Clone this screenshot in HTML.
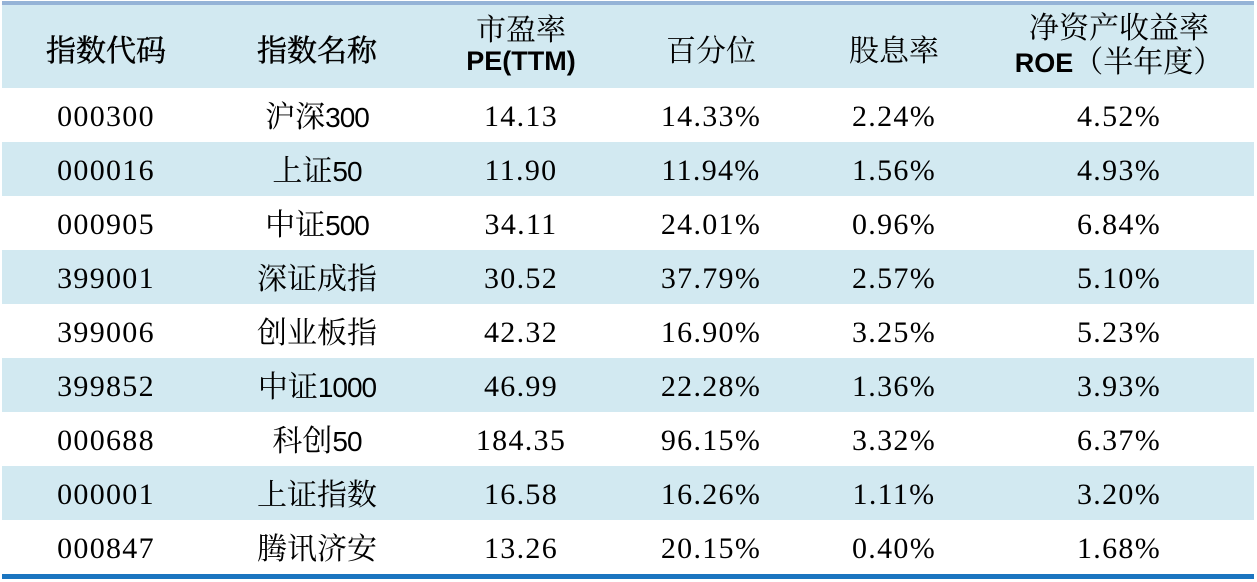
<!DOCTYPE html>
<html>
<head>
<meta charset="utf-8">
<style>
  html, body { margin:0; padding:0; background:#fff; }
  body { width:1257px; height:582px; position:relative; overflow:hidden; }
  .band { position:absolute; left:2px; width:1252px; background:#d2e9f1; }
  .topline { position:absolute; left:2px; width:1252px; top:1px; height:4px; background:#95b3d7; }
  .botline { position:absolute; left:2px; width:1252px; top:574px; height:5px; background:#1b75c0; }
  .row { position:absolute; left:0; height:54px; width:1257px; }
  .c { position:absolute; top:0; height:54px; line-height:58px; text-align:center; white-space:nowrap; color:#000;
       font-family:"Liberation Serif","Noto Serif CJK SC","Noto Serif CJK JP","Noto Serif SC",serif; font-size:30px; letter-spacing:1.3px; }
  .cn { font-family:"Noto Serif CJK SC","Noto Serif CJK JP","Noto Serif SC","Liberation Serif",serif; letter-spacing:0; font-size:30px; }
  .sn { font-family:"Liberation Sans",sans-serif; font-size:28px; letter-spacing:-1px; }
  .c1 { left:2px; width:208px; }
  .c2 { left:210px; width:214px; top:-3px; }
  .c3 { left:424px; width:194px; }
  .c4 { left:618px; width:186px; }
  .c5 { left:804px; width:180px; }
  .c6 { left:984px; width:270px; }
  .h { position:absolute; top:6px; height:83px; display:flex; flex-direction:column; justify-content:center; align-items:center;
       font-family:"Noto Serif CJK SC","Noto Serif CJK JP","Noto Serif SC","Liberation Serif",serif; font-size:30px; color:#000; line-height:34px; white-space:nowrap; }
  .h.two { top:2px; }
  .hb { -webkit-text-stroke:0.5px #000; }
  .en { font-family:"Liberation Sans","Noto Sans CJK SC",sans-serif; font-weight:bold; font-size:27px; }
</style>
</head>
<body>
  <div class="band" style="top:5px;height:83px;"></div>
  <div class="band" style="top:142px;height:54px;"></div>
  <div class="band" style="top:250px;height:54px;"></div>
  <div class="band" style="top:358px;height:54px;"></div>
  <div class="band" style="top:466px;height:54px;"></div>
  <div class="topline"></div>
  <div class="botline"></div>

  <div class="h c1 hb">指数代码</div>
  <div class="h c2 hb" style="top:6px;">指数名称</div>
  <div class="h two c3"><div>市盈率</div><div class="en">PE(TTM)</div></div>
  <div class="h c4">百分位</div>
  <div class="h c5">股息率</div>
  <div class="h two c6"><div>净资产收益率</div><div><span class="en">ROE</span>（半年度）</div></div>

  <div class="row" style="top:88px;">
    <div class="c c1">000300</div><div class="c c2"><span class="cn">沪深</span><span class="sn">300</span></div>
    <div class="c c3">14.13</div><div class="c c4">14.33%</div><div class="c c5">2.24%</div><div class="c c6">4.52%</div>
  </div>
  <div class="row" style="top:142px;">
    <div class="c c1">000016</div><div class="c c2"><span class="cn">上证</span><span class="sn">50</span></div>
    <div class="c c3">11.90</div><div class="c c4">11.94%</div><div class="c c5">1.56%</div><div class="c c6">4.93%</div>
  </div>
  <div class="row" style="top:196px;">
    <div class="c c1">000905</div><div class="c c2"><span class="cn">中证</span><span class="sn">500</span></div>
    <div class="c c3">34.11</div><div class="c c4">24.01%</div><div class="c c5">0.96%</div><div class="c c6">6.84%</div>
  </div>
  <div class="row" style="top:250px;">
    <div class="c c1">399001</div><div class="c c2"><span class="cn">深证成指</span></div>
    <div class="c c3">30.52</div><div class="c c4">37.79%</div><div class="c c5">2.57%</div><div class="c c6">5.10%</div>
  </div>
  <div class="row" style="top:304px;">
    <div class="c c1">399006</div><div class="c c2"><span class="cn">创业板指</span></div>
    <div class="c c3">42.32</div><div class="c c4">16.90%</div><div class="c c5">3.25%</div><div class="c c6">5.23%</div>
  </div>
  <div class="row" style="top:358px;">
    <div class="c c1">399852</div><div class="c c2"><span class="cn">中证</span><span class="sn">1000</span></div>
    <div class="c c3">46.99</div><div class="c c4">22.28%</div><div class="c c5">1.36%</div><div class="c c6">3.93%</div>
  </div>
  <div class="row" style="top:412px;">
    <div class="c c1">000688</div><div class="c c2"><span class="cn">科创</span><span class="sn">50</span></div>
    <div class="c c3">184.35</div><div class="c c4">96.15%</div><div class="c c5">3.32%</div><div class="c c6">6.37%</div>
  </div>
  <div class="row" style="top:466px;">
    <div class="c c1">000001</div><div class="c c2"><span class="cn">上证指数</span></div>
    <div class="c c3">16.58</div><div class="c c4">16.26%</div><div class="c c5">1.11%</div><div class="c c6">3.20%</div>
  </div>
  <div class="row" style="top:520px;">
    <div class="c c1">000847</div><div class="c c2"><span class="cn">腾讯济安</span></div>
    <div class="c c3">13.26</div><div class="c c4">20.15%</div><div class="c c5">0.40%</div><div class="c c6">1.68%</div>
  </div>
</body>
</html>
